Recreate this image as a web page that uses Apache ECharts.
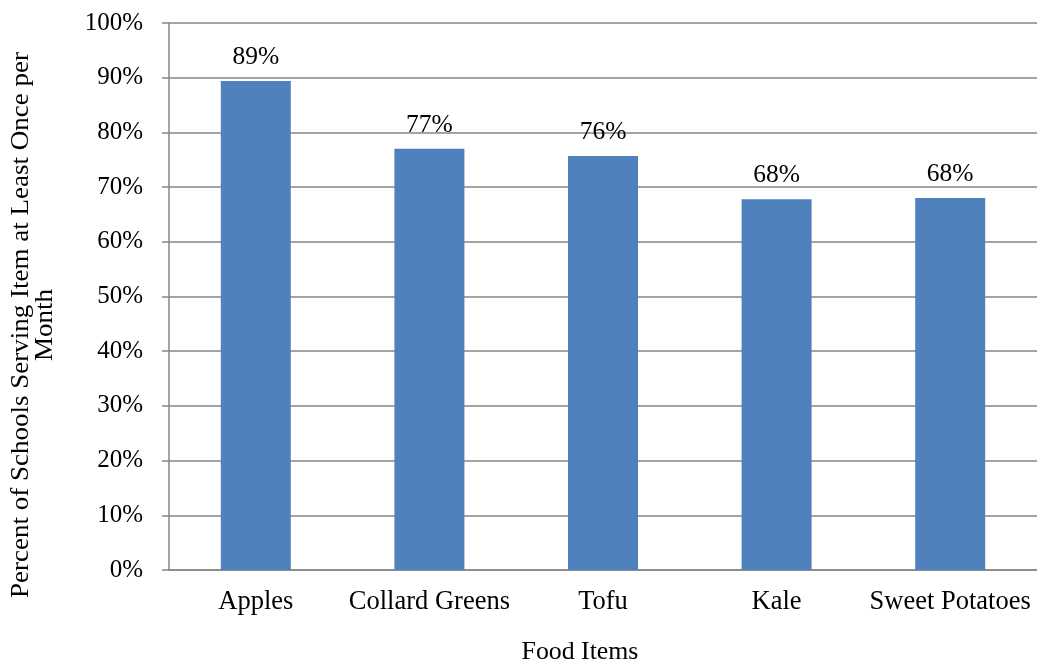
<!DOCTYPE html>
<html>
<head>
<meta charset="utf-8">
<script src="https://cdn.jsdelivr.net/npm/echarts@6/dist/echarts.min.js"></script>
<style>
  html, body { margin: 0; padding: 0; background: #ffffff; }
  #chart { width: 1037px; height: 665px; }
</style>
</head>
<body>
<div id="chart"></div>
<script>
// Share of schools serving each food item at least once per month (%)
const categories = ['Apples', 'Collard Greens', 'Tofu', 'Kale', 'Sweet Potatoes'];
const percentServed = [89.4, 77.0, 75.7, 67.8, 68.0];
const yTicks = [0, 10, 20, 30, 40, 50, 60, 70, 80, 90, 100];

const FONT = '"Liberation Serif", "Times New Roman", serif';
const AXIS_GREY = '#868686';

const chart = echarts.init(document.getElementById('chart'));

chart.setOption({
  backgroundColor: '#ffffff',
  animation: false,
  grid: { left: 169, top: 23, width: 877.5, height: 547 },
  xAxis: {
    type: 'category',
    data: categories,
    axisLine: { show: true, lineStyle: { color: AXIS_GREY, width: 1.5 } },
    axisTick: { show: false },
    axisLabel: {
      color: '#000',
      fontFamily: FONT,
      fontSize: 26.5,
      margin: 19,
      interval: 0
    }
  },
  yAxis: {
    type: 'value',
    min: yTicks[0],
    max: yTicks[yTicks.length - 1],
    interval: yTicks[1] - yTicks[0],
    axisLine: { show: true, lineStyle: { color: AXIS_GREY, width: 1.5 } },
    axisTick: { show: true, length: 7, lineStyle: { color: AXIS_GREY, width: 1.5 } },
    splitLine: { show: true, lineStyle: { color: AXIS_GREY, width: 1.5 } },
    axisLabel: {
      color: '#000',
      fontFamily: FONT,
      fontSize: 25,
      margin: 26,
      formatter: v => v + '%'
    }
  },
  series: [{
    type: 'bar',
    data: percentServed,
    barWidth: 70,
    itemStyle: { color: '#4F81BD' },
    label: {
      show: true,
      position: 'top',
      distance: 11,
      color: '#000',
      fontFamily: FONT,
      fontSize: 25.5,
      formatter: p => Math.round(p.value) + '%'
    }
  }],
  graphic: [
    {
      // vertical axis title, two lines, read bottom to top
      type: 'text',
      x: 33,
      y: 325,
      rotation: Math.PI / 2,
      scaleX: 1.08,
      style: {
        text: 'Percent of Schools Serving Item at Least Once per\nMonth',
        font: '25px ' + FONT,
        fill: '#000',
        align: 'center',
        verticalAlign: 'middle',
        lineHeight: 24
      }
    },
    {
      type: 'text',
      x: 580,
      y: 652,
      style: {
        text: 'Food Items',
        font: '25.8px ' + FONT,
        fill: '#000',
        align: 'center',
        verticalAlign: 'middle'
      }
    }
  ]
});
</script>
</body>
</html>
